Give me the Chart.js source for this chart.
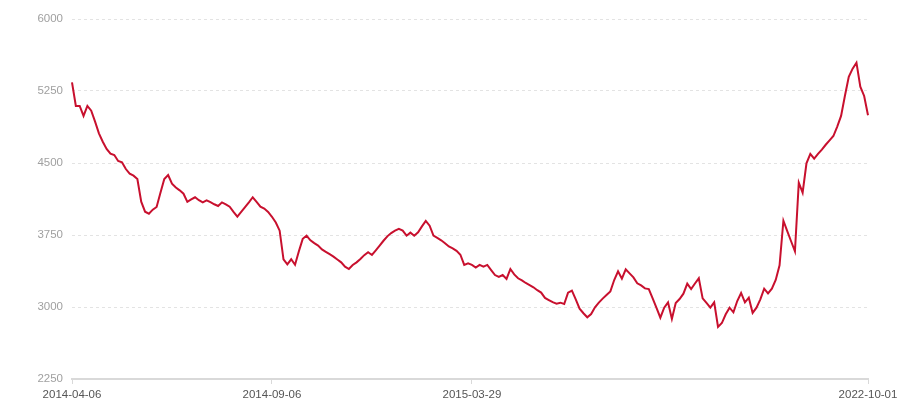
<!DOCTYPE html>
<html>
<head>
<meta charset="utf-8">
<script src="https://cdn.jsdelivr.net/npm/chart.js@4.4.1/dist/chart.umd.min.js"></script>
<style>
  html, body { margin: 0; padding: 0; background: #fff; }
  #wrap { width: 900px; height: 400px; }
</style>
</head>
<body>
<div id="wrap"><canvas id="chart" width="900" height="400"></canvas></div>
<script>
// series values, one per category
const values = [
  5340, 5094, 5094, 4990, 5094, 5045, 4931, 4809, 4722, 4646,
  4597, 4583, 4521, 4507, 4437, 4389, 4368, 4333, 4097, 3993,
  3972, 4014, 4042, 4190, 4333, 4375, 4285, 4245, 4215, 4180,
  4095, 4120, 4143, 4112, 4090, 4111, 4092, 4070, 4052, 4090,
  4070, 4045, 3990, 3941, 3990, 4040, 4090, 4143, 4095, 4045,
  4025, 3990, 3940, 3880, 3795, 3497, 3445, 3497, 3440, 3580,
  3710, 3743, 3695, 3665, 3640, 3600, 3575, 3550, 3525, 3495,
  3465, 3420, 3396, 3438, 3465, 3500, 3540, 3570, 3542, 3590,
  3639, 3690, 3736, 3770, 3795, 3813, 3795, 3743, 3775, 3743,
  3778, 3840, 3896, 3847, 3743, 3720, 3695, 3665, 3630, 3611,
  3585, 3545, 3438, 3455, 3438, 3410, 3438, 3420, 3438, 3385,
  3333, 3313, 3333, 3292, 3396, 3340, 3299, 3278, 3250, 3228,
  3205, 3175, 3150, 3095, 3072, 3050, 3035, 3045, 3031, 3149,
  3170, 3080, 2983, 2935, 2893, 2927, 2997, 3045, 3087, 3125,
  3163, 3281, 3371, 3295, 3392, 3350, 3309, 3247, 3225, 3194,
  3187, 3090, 2990, 2889, 2993, 3049, 2875, 3042, 3083, 3139,
  3243, 3187, 3245, 3299, 3090, 3042, 2993, 3049, 2792, 2833,
  2924, 2993, 2945, 3062, 3146, 3049, 3097, 2938, 2993, 3080,
  3191, 3142, 3191, 3281, 3434, 3899, 3790, 3685, 3580, 4295,
  4191, 4497, 4594, 4545, 4595, 4640, 4690, 4735, 4781, 4880,
  4990, 5200, 5399, 5483, 5545, 5295, 5198, 4997
];

// the dates that appear under the x axis and where they sit in the series
const tickDates = ['2014-04-06', '2014-09-06', '2015-03-29', '2022-10-01'];
const tickIndexes = [0, 52, 104, 207];

// y axis range
const yMin = 2250;
const yMax = 6000;
const yStep = 750;

const labels = values.map((v, i) => {
  const k = tickIndexes.indexOf(i);
  return k >= 0 ? tickDates[k] : '';
});

const ctx = document.getElementById('chart').getContext('2d');

new Chart(ctx, {
  type: 'line',
  data: {
    labels,
    datasets: [{
      data: values,
      borderColor: '#c8102e',
      borderWidth: 2,
      pointRadius: 0,
      tension: 0,
      fill: false,
    }],
  },
  options: {
    responsive: false,
    animation: false,
    layout: { padding: { top: 19, right: 32, bottom: 2, left: 0 } },
    plugins: {
      legend: { display: false },
      tooltip: { enabled: false },
    },
    scales: {
      x: {
        offset: false,
        border: { display: true, color: '#d9d9d9', width: 2 },
        grid: { display: true, drawOnChartArea: false, drawTicks: true, tickLength: 5, color: '#d9d9d9' },
        ticks: {
          autoSkip: false,
          maxRotation: 0,
          minRotation: 0,
          padding: 4,
          color: '#555',
          font: { family: 'Liberation Sans', size: 11.5 },
          callback: function (val) {
            const l = this.getLabelForValue(val);
            return l === '' ? null : l;
          },
        },
        afterFit: (scale) => {
          scale.height = 19;
          scale.paddingRight = 0;
          scale.paddingLeft = 0;
        },
      },
      y: {
        min: yMin,
        max: yMax,
        border: { display: false, dash: [3, 3] },
        grid: {
          drawTicks: false,
          color: '#e3e3e3',
          lineWidth: 1,
        },
        ticks: {
          stepSize: yStep,
          padding: 9,
          color: '#a0a0a0',
          font: { family: 'Liberation Sans', size: 11.5 },
          callback: (v) => String(v),
        },
        afterFit: (scale) => { scale.width = 72; },
      },
    },
  },
});
</script>
</body>
</html>
